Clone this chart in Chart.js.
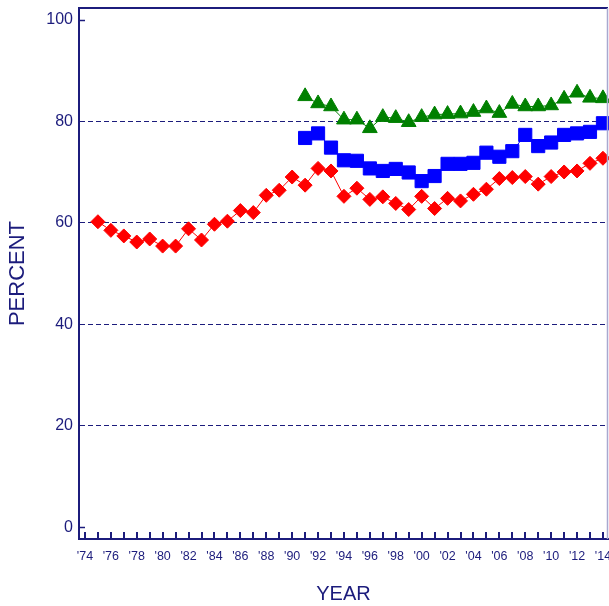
<!DOCTYPE html>
<html><head><meta charset="utf-8">
<script src="https://cdn.jsdelivr.net/npm/chart.js@4"></script>
<style>html,body{margin:0;padding:0;background:#fff;overflow:hidden}#wrap{width:609px;height:606px}</style>
</head><body><div id="wrap"><canvas id="c" width="609" height="606"></canvas></div>
<script>
const NAVY = '#1c1c7c';
const FONT = '"Liberation Sans", Arial, sans-serif';

// Data
const redYears = [1975,1976,1977,1978,1979,1980,1981,1982,1983,1984,1985,1986,1987,1988,1989,1990,1991,1992,1993,1994,1995,1996,1997,1998,1999,2000,2001,2002,2003,2004,2005,2006,2007,2008,2009,2010,2011,2012,2013,2014];
const redValues = [60.2,58.5,57.4,56.2,56.8,55.4,55.4,58.8,56.6,59.7,60.3,62.4,62.0,65.4,66.4,69.0,67.4,70.7,70.2,65.2,66.8,64.6,65.1,63.8,62.6,65.2,62.8,64.8,64.3,65.6,66.6,68.7,68.9,69.1,67.6,69.1,70.0,70.2,71.7,72.7];
const laterYears = [1991,1992,1993,1994,1995,1996,1997,1998,1999,2000,2001,2002,2003,2004,2005,2006,2007,2008,2009,2010,2011,2012,2013,2014];
const blueValues = [76.7,77.6,74.8,72.3,72.2,70.7,70.2,70.6,69.9,68.2,69.2,71.6,71.6,71.8,73.8,73.0,74.1,77.3,75.1,75.8,77.3,77.6,77.9,79.6];
const greenValues = [84.9,83.5,82.9,80.3,80.3,78.6,80.8,80.6,79.8,80.8,81.3,81.4,81.5,81.8,82.5,81.6,83.4,82.9,82.9,83.1,84.4,85.6,84.6,84.5];

// Tick labels
const yTickValues = [0,20,40,60,80,100];
const xLabelYears = [1974,1976,1978,1980,1982,1984,1986,1988,1990,1992,1994,1996,1998,2000,2002,2004,2006,2008,2010,2012,2014];
const xMinorYears = [1974,1975,1976,1977,1978,1979,1980,1981,1982,1983,1984,1985,1986,1987,1988,1989,1990,1991,1992,1993,1994,1995,1996,1997,1998,1999,2000,2001,2002,2003,2004,2005,2006,2007,2008,2009,2010,2011,2012,2013,2014];

function pts(xs, ys) { return xs.map((x, i) => ({ x: x, y: ys[i] })); }

const deco = {
  id: 'deco',
  afterDraw(chart) {
    const { ctx, chartArea: a, scales: { x, y } } = chart;
    ctx.save();
    ctx.strokeStyle = NAVY;
    ctx.lineWidth = 2;
    ctx.beginPath(); ctx.moveTo(a.left, a.top); ctx.lineTo(a.right, a.top); ctx.stroke();
    xMinorYears.forEach(yr => {
      const px = Math.round(x.getPixelForValue(yr));
      ctx.beginPath(); ctx.moveTo(px, a.bottom); ctx.lineTo(px, a.bottom - 7); ctx.stroke();
    });
    ctx.lineWidth = 1.5;
    [0, 100].forEach(v => {
      const py = Math.round(y.getPixelForValue(v)) + 0.5;
      ctx.beginPath(); ctx.moveTo(a.left, py); ctx.lineTo(a.left + 6, py); ctx.stroke();
    });
    ctx.strokeStyle = '#a8a8d0';
    ctx.lineWidth = 1.5;
    ctx.beginPath(); ctx.moveTo(a.right - 0.5, a.top); ctx.lineTo(a.right - 0.5, a.bottom); ctx.stroke();
    ctx.restore();
  }
};

new Chart(document.getElementById('c'), {
  type: 'line',
  data: {
    datasets: [
      { data: pts(laterYears, greenValues), borderColor: '#008000', backgroundColor: '#008000', pointBackgroundColor: '#008000', pointBorderColor: '#008000', borderWidth: 1, pointStyle: 'triangle', pointRadius: 8.5, pointBorderWidth: 1, tension: 0, clip: 1 },
      { data: pts(laterYears, blueValues), borderColor: '#0000ff', backgroundColor: '#0000ff', pointBackgroundColor: '#0000ff', pointBorderColor: '#0000ff', borderWidth: 1, pointStyle: 'rect', pointRadius: 9.3, pointBorderWidth: 1, tension: 0, clip: 1 },
      { data: pts(redYears, redValues), borderColor: '#ff0000', backgroundColor: '#ff0000', pointBackgroundColor: '#ff0000', pointBorderColor: '#ff0000', borderWidth: 1, pointStyle: 'rectRot', pointRadius: 7, pointBorderWidth: 1, tension: 0, clip: 1 }
    ]
  },
  options: {
    responsive: false,
    animation: false,
    devicePixelRatio: 1,
    layout: { autoPadding: false, padding: { top: 8, right: 1, left: 0, bottom: 0 } },
    plugins: { legend: { display: false }, tooltip: { enabled: false } },
    scales: {
      x: {
        type: 'linear',
        min: 1973.54, max: 2014.39,
        afterBuildTicks(s) { s.ticks = xLabelYears.map(v => ({ value: v })); },
        afterFit(s) { s.height = 67; s.paddingLeft = 0; s.paddingRight = 0; },
        grid: { display: false, drawTicks: false },
        border: { display: true, color: NAVY, width: 2 },
        ticks: { autoSkip: false, maxRotation: 0, padding: 10, color: NAVY, font: { family: FONT, size: 12.5 },
          callback: v => "'" + String(v).slice(2) },
        title: { display: true, text: 'YEAR', color: NAVY, font: { family: FONT, size: 20 }, padding: { top: 0, bottom: 0 } }
      },
      y: {
        min: -2.3, max: 102.3,
        afterBuildTicks(s) { s.ticks = yTickValues.map(v => ({ value: v })); },
        afterFit(s) { s.width = 79; s.paddingTop = 0; s.paddingBottom = 0; },
        grid: { drawTicks: false, lineWidth: 1, color: c => (c.tick && (c.tick.value === 0 || c.tick.value === 100)) ? 'rgba(0,0,0,0)' : NAVY },
        border: { display: true, color: NAVY, width: 2, dash: [5, 3] },
        ticks: { autoSkip: false, padding: 6, color: NAVY, font: { family: FONT, size: 16 }, callback: v => String(v) },
        title: { display: true, text: 'PERCENT', color: NAVY, font: { family: FONT, size: 22 }, padding: { top: 5, bottom: 0 } }
      }
    }
  },
  plugins: [deco]
});
</script>
</body></html>
